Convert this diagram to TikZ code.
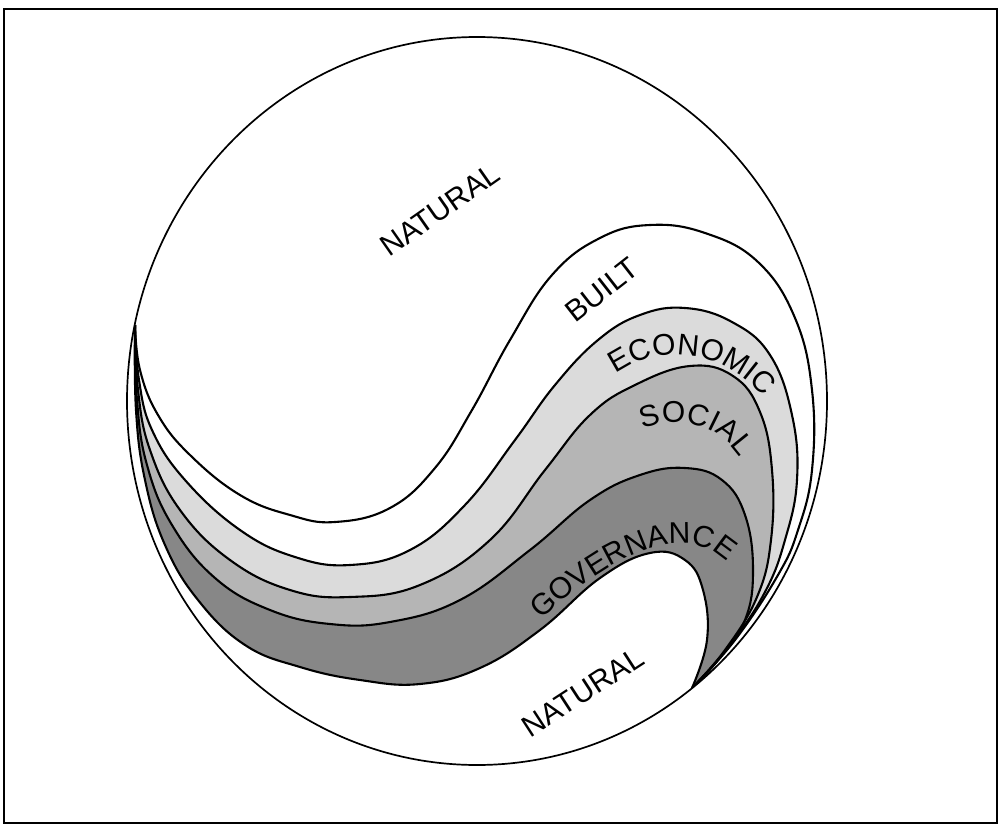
\documentclass[tikz,border=0pt]{standalone}
\usepackage{fontspec}
\setmainfont{Liberation Sans}
\usetikzlibrary{decorations.text}
\definecolor{econgray}{gray}{0.86}
\definecolor{socgray}{gray}{0.71}
\definecolor{govgray}{gray}{0.53}
% the five S-shaped boundaries, left point L to right point R
\newcommand{\curveA}{plot[smooth,tension=0.7] coordinates {(135,325) (140,370) (158,415) (190,455) (240,495) (290,515) (335,522) (390,508) (435,468) (472,410) (510,340) (552,275) (600,238) (650,225) (705,233) (758,262) (795,318) (812,390) (812,470) (798,530) (778,575) (735,640) (692,688)}}
\newcommand{\curveB}{plot[smooth,tension=0.7] coordinates {(135,325) (139,380) (152,430) (185,480) (240,530) (295,557) (350,565) (410,550) (465,505) (515,440) (555,385) (598,340) (640,315) (685,308) (732,322) (770,355) (792,415) (797,480) (785,540) (765,592) (730,645) (692,688)}}
\newcommand{\curveC}{plot[smooth,tension=0.7] coordinates {(135,325) (138,390) (150,450) (180,510) (230,560) (290,590) (350,597) (420,585) (490,540) (545,470) (590,415) (635,385) (690,366) (733,376) (760,412) (772,470) (771,540) (757,597) (725,650) (692,688)}}
\newcommand{\curveD}{plot[smooth,tension=0.7] coordinates {(135,325) (137,400) (147,465) (172,525) (215,578) (270,610) (330,624) (390,622) (460,600) (530,550) (590,500) (640,475) (685,468) (722,480) (745,515) (753,570) (745,620) (718,660) (692,688)}}
\newcommand{\curveE}{plot[smooth,tension=0.7] coordinates {(135,325) (136,410) (145,480) (165,545) (198,600) (245,645) (300,667) (360,680) (420,684) (480,668) (540,630) (600,578) (650,553) (685,560) (703,590) (707,640) (692,688)}}
\begin{document}
\begin{tikzpicture}[x=1pt,y=-1pt,
  edge/.style={line width=2.1pt},
  lbl/.style={font=\fontsize{30}{32}\selectfont,inner sep=0pt}]
\useasboundingbox (0,0) rectangle (1002,827);
\draw[line width=2pt] (4,9) rectangle (997,823);

% bands, each filled from its upper boundary down to the circle
\coordinate (c) at (477,401);
\begin{scope}
\clip (c) ellipse [x radius=350, y radius=364];
\fill[econgray] \curveB -- (1000,900) -- (0,900) -- (0,325) -- cycle;
\fill[socgray] \curveC -- (1000,900) -- (0,900) -- (0,325) -- cycle;
\fill[govgray] \curveD -- (1000,900) -- (0,900) -- (0,325) -- cycle;
\fill[white] \curveE -- (1000,900) -- (0,900) -- (0,325) -- cycle;
\draw[edge] \curveA;
\draw[edge] \curveB;
\draw[edge] \curveC;
\draw[edge] \curveD;
\draw[edge] \curveE;
\end{scope}
\draw[line width=1.7pt] (c) ellipse [x radius=350, y radius=364];

% labels
\node[lbl,rotate=35] (nat1) at (440,210) {NATURAL};
\node[lbl,rotate=38] (built) at (602,290) {BUILT};
\node[lbl,rotate=33] (nat2) at (583,692) {NATURAL};
\path[decorate,decoration={text along path,text align=center,
  text={|\fontsize{30}{32}\selectfont|ECONOMIC}}]
  (598,390) .. controls (640,343) and (725,335) .. (778,416);
\path[decorate,decoration={text along path,text align=center,
  text={|\fontsize{30}{32}\selectfont|SOCIAL}}]
  (634,433) .. controls (670,413) and (722,420) .. (745,466);
\path[decorate,decoration={text along path,text align=center,
  text={|\fontsize{30}{32}\selectfont|GOVERNANCE}}]
  (520,642) .. controls (590,565) and (702,495) .. (744,588);
\end{tikzpicture}
\end{document}
